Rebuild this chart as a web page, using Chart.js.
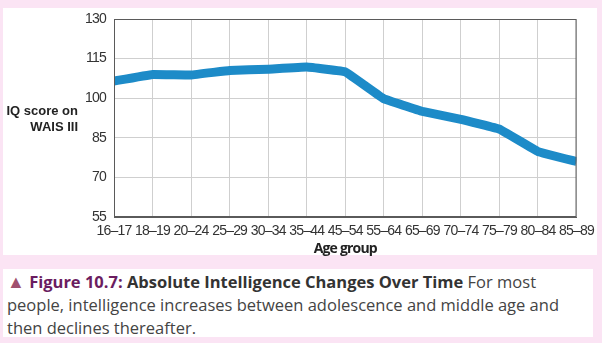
<!DOCTYPE html>
<html>
<head>
<meta charset="utf-8">
<script src="https://cdn.jsdelivr.net/npm/chart.js@4/dist/chart.umd.min.js"></script>
<style>
  html, body { margin: 0; padding: 0; }
  body { width: 602px; height: 343px; background: #fbe4f4; position: relative; overflow: hidden; }
  #panel { position: absolute; left: 3px; top: 8px; width: 594px; height: 247px; background: #ffffff; }
  #wrap { position: absolute; left: 0; top: 0; width: 602px; height: 260px; }
  #ytitle { position: absolute; left: 0; width: 78px; top: 103px; text-align: right;
            font: bold 13px "Liberation Sans", Arial, sans-serif; line-height: 16px; color: #222; }
  #caption { position: absolute; left: 3px; top: 269px; width: 590px; height: 68px; background: #ffffff;
             box-sizing: border-box; padding: 1px 0 0 4px; white-space: nowrap;
             font: 16.5px "Open Sans", sans-serif; line-height: 23px; color: #444; }
  #caption .tri { color: #a0506e; font-size: 18px; line-height: 10px; }
  #caption .fig { color: #6b1d60; font-weight: bold; }
  #caption .ttl { color: #333; font-weight: bold; }
</style>
</head>
<body>
<div id="panel"></div>
<div id="wrap"><canvas id="c" width="602" height="260"></canvas></div>
<div id="ytitle">IQ score on<br>WAIS III</div>
<div id="caption"><span class="tri">&#9650;</span> <span class="fig">Figure 10.7:</span> <span class="ttl">Absolute Intelligence Changes Over Time</span> For most<br>people, intelligence increases between adolescence and middle age and<br>then declines thereafter.</div>
<script>
const ageGroups = ["16–17","18–19","20–24","25–29","30–34","35–44","45–54","55–64","65–69","70–74","75–79","80–84","85–89"];
const iqScores = [106.5, 109, 108.8, 110.5, 111, 111.8, 110, 99.8, 95, 92, 88.3, 79.8, 76];
const yTicks = [55, 70, 85, 100, 115, 130];

const tickFont = { family: '"Liberation Sans", Arial, sans-serif', size: 14 };

new Chart(document.getElementById('c'), {
  type: 'line',
  data: {
    labels: ageGroups,
    datasets: [{
      data: iqScores,
      borderColor: '#1d8bc8',
      borderWidth: 9,
      pointRadius: 0,
      tension: 0.05,
      borderJoinStyle: 'round',
      fill: false,
      clip: 0
    }]
  },
  options: {
    responsive: false,
    animation: false,
    events: [],
    layout: { padding: { left: 0, top: 19, right: 23, bottom: 0 } },
    plugins: { legend: { display: false }, tooltip: { enabled: false } },
    scales: {
      x: {
        type: 'category',
        offset: false,
        afterFit: s => { s.height = 43; },
        grid: { color: '#cfcfcf', lineWidth: 1, drawTicks: false },
        border: { display: true, color: '#5a5a5a', width: 1 },
        ticks: { color: '#333', font: tickFont, padding: 6, maxRotation: 0, autoSkip: false },
        title: { display: true, text: 'Age group', color: '#222',
                 font: { family: '"Open Sans", sans-serif', size: 14, weight: 'bold' },
                 padding: { top: 0, bottom: 3 } }
      },
      y: {
        min: 55, max: 130,
        afterFit: s => { s.width = 114; },
        afterBuildTicks: s => { s.ticks = yTicks.map(v => ({ value: v })); },
        grid: { color: '#cfcfcf', lineWidth: 1, drawTicks: false },
        border: { display: true, color: '#5a5a5a', width: 1 },
        ticks: { color: '#333', font: tickFont, padding: 8 }
      }
    }
  },
  plugins: [{
    id: 'tightText',
    beforeDraw(chart) { chart.ctx.letterSpacing = '-0.8px'; },
    beforeDatasetsDraw(chart) { chart.ctx.letterSpacing = '0px'; },
    afterDraw(chart) {
      const { ctx, chartArea: a } = chart;
      ctx.save();
      ctx.letterSpacing = '0px';
      ctx.strokeStyle = '#5a5a5a';
      ctx.lineWidth = 1;
      ctx.strokeRect(a.left + 0.5, a.top + 0.5, a.right - a.left - 1, a.bottom - a.top - 1);
      ctx.restore();
    }
  }]
});
</script>
</body>
</html>
